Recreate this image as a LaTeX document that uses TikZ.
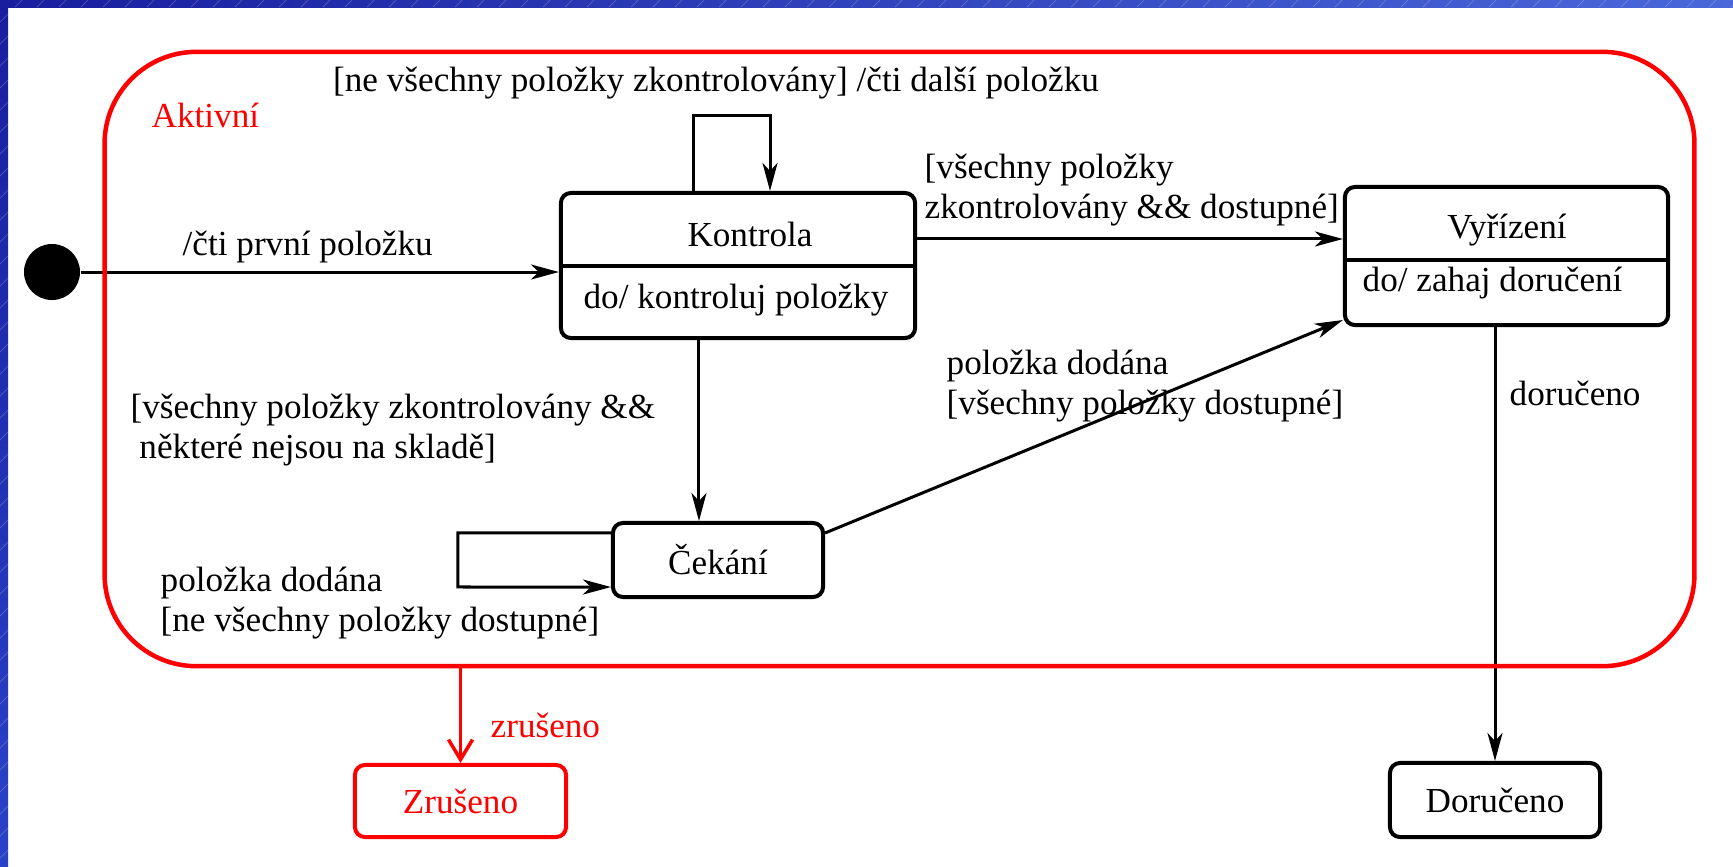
\documentclass[tikz,border=0pt]{standalone}
\usepackage{fontspec}
\setmainfont{Liberation Serif}
\usetikzlibrary{arrows.meta,positioning}

\definecolor{ramTmava}{RGB}{24,30,158}
\definecolor{ramSvetla}{RGB}{74,104,218}
\definecolor{ramDole}{RGB}{42,66,200}

\begin{document}
\begin{tikzpicture}[
  x=0.01cm, y=-0.01cm,
  font=\fontsize{10}{11.5}\selectfont,
  stav/.style={draw, line width=0.04cm, rounded corners=0.1cm, inner sep=0pt},
  popis/.style={align=left, inner sep=0pt, anchor=west},
  sipka/.style={-{Stealth[length=0.28cm,width=0.15cm,inset=0.08cm]}, line width=0.03cm},
  rsipka/.style={-{Straight Barb[length=0.2cm,width=0.24cm]}, line width=0.035cm, red}
]
\useasboundingbox (0,0) rectangle (1733,866);
\fill[white] (0,0) rectangle (1733,866);
% slide frame
\shade[left color=ramTmava, right color=ramSvetla] (0,0) rectangle (1733,7);
\shade[top color=ramTmava, bottom color=ramDole] (0,0) rectangle (8,866);
\begin{scope}
  \clip (0,0) rectangle (1733,7) (0,0) rectangle (8,866);
  \foreach \a in {0,22,...,1760}
    \draw[white, opacity=0.22, line width=0.2pt] (\a,0) -- ++(-880,880);
\end{scope}
% initial state
\node[circle, fill, minimum size=0.56cm, inner sep=0pt] (start) at (52,272) {};
% states
\node[stav, minimum width=3.54cm, minimum height=1.45cm] (kontrola) at (738,265.5) {};
\draw[line width=0.04cm] (kontrola.west) -- (kontrola.east);
\node (kontrolaJm) at (750,234) {Kontrola};
\node (kontrolaDo) at (736,300) {do/ kontroluj položky};
\node[stav, minimum width=3.23cm, minimum height=1.38cm] (vyrizeni) at (1506.5,256) {};
\draw[line width=0.04cm] ([yshift=-0.04cm]vyrizeni.west) -- ([yshift=-0.04cm]vyrizeni.east);
\node (vyrizeniJm) at (1507,230) {Vyřízení};
\node[anchor=west, inner sep=0pt] (vyrizeniDo) at (1362,283) {do/ zahaj doručení};
\node[stav, minimum width=2.1cm, minimum height=0.74cm] (cekani) at (718,560) {Čekání};
\node[stav, minimum width=2.1cm, minimum height=0.74cm] (doruceno) at (1495,800) {Doručeno};
\node[stav, draw=red, text=red, minimum width=2.11cm, minimum height=0.72cm] (zruseno) at (460.5,801) {Zrušeno};
% transitions
\draw[sipka] (start) -- (kontrola.west |- start);
\draw[sipka] ([xshift=-0.44cm]kontrola.north) -- ++(0,-75) -| ([xshift=0.32cm]kontrola.north);
\draw[sipka] ([yshift=0.265cm]kontrola.east) -- ([yshift=0.265cm]kontrola.east -| vyrizeni.west);
\draw[sipka] ([xshift=-0.39cm]kontrola.south) -- ([xshift=-0.39cm]kontrola.south |- cekani.north);
\draw[sipka] ([yshift=0.27cm]cekani.west) -- ++(-153,0) -- ++(0,54) -- ([yshift=-0.27cm]cekani.west);
\draw[sipka] ([yshift=0.27cm]cekani.east) -- ([yshift=0.07cm]vyrizeni.south west);
\draw[sipka] (doruceno.north |- vyrizeni.south) -- (doruceno.north);
% super-state
\node[draw=red, line width=0.045cm, rounded corners=0.92cm, minimum width=15.89cm,
      minimum height=6.14cm, inner sep=0pt] (aktivni) at (899.5,359) {};
\node[red, anchor=base west, inner sep=0pt] (aktivniJm) at (151,127) {Aktivní};
\draw[rsipka] (aktivni.south -| zruseno.north) -- (zruseno.north);
% labels
\node (lDalsi) at (716,83) {[ne všechny položky zkontrolovány] /čti další položku};
\node[popis] (lPrvni) at (182,247) {/čti první položku};
\node[popis] (lDostupne) at (924,190) {[všechny položky\\zkontrolovány \&\& dostupné]};
\node[popis] (lSklad) at (130,430) {[všechny položky zkontrolovány \&\&\\\hspace*{0.25em}některé nejsou na skladě]};
\node[popis] (lNedostupne) at (160,603) {položka dodána\\{}[ne všechny položky dostupné]};
\node[popis] (lDodana) at (946,386) {položka dodána\\{}[všechny položky dostupné]};
\node[popis] (lDoruceno) at (1509,393) {doručeno};
\node[popis, red] (lZruseno) at (490,725) {zrušeno};
\end{tikzpicture}
\end{document}
